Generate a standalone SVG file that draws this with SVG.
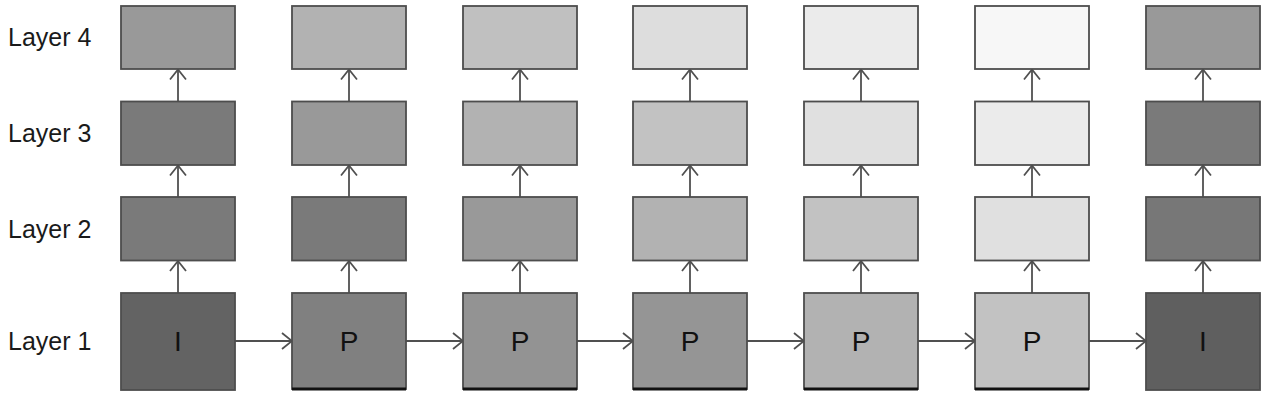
<svg xmlns="http://www.w3.org/2000/svg" width="1263" height="408" viewBox="0 0 1263 408">
<style>
.box{stroke:#4d4d4d;stroke-width:1.8}
.lbl{font-family:"Liberation Sans",Arial,sans-serif;font-size:25px;fill:#1a1a1a}
.fr{font-family:"Liberation Sans",Arial,sans-serif;font-size:28px;fill:#111;text-anchor:middle}
.con{stroke:#505050;stroke-width:1.8;fill:none}
.base{stroke:#111;stroke-width:3}
</style>
<defs>
<marker id="ah" viewBox="0 0 12 18" refX="11" refY="9" markerWidth="12" markerHeight="18" markerUnits="userSpaceOnUse" orient="auto">
<path d="M1,1 L11,9 L1,17" fill="none" stroke="#505050" stroke-width="1.8"/>
</marker>
</defs>
<rect width="1263" height="408" fill="#fff"/>
<g id="labels">
<text class="lbl" x="8" y="46">Layer 4</text>
<text class="lbl" x="8" y="142">Layer 3</text>
<text class="lbl" x="8" y="238">Layer 2</text>
<text class="lbl" x="8" y="350">Layer 1</text>
</g>
<g id="connectors">
<line class="con" x1="178" y1="197" x2="178" y2="165.5" marker-end="url(#ah)"/>
<line class="con" x1="178" y1="101" x2="178" y2="69.5" marker-end="url(#ah)"/>
<line class="con" x1="178" y1="293" x2="178" y2="261" marker-end="url(#ah)"/>
<line class="con" x1="349" y1="197" x2="349" y2="165.5" marker-end="url(#ah)"/>
<line class="con" x1="349" y1="101" x2="349" y2="69.5" marker-end="url(#ah)"/>
<line class="con" x1="349" y1="293" x2="349" y2="261" marker-end="url(#ah)"/>
<line class="con" x1="520" y1="197" x2="520" y2="165.5" marker-end="url(#ah)"/>
<line class="con" x1="520" y1="101" x2="520" y2="69.5" marker-end="url(#ah)"/>
<line class="con" x1="520" y1="293" x2="520" y2="261" marker-end="url(#ah)"/>
<line class="con" x1="690" y1="197" x2="690" y2="165.5" marker-end="url(#ah)"/>
<line class="con" x1="690" y1="101" x2="690" y2="69.5" marker-end="url(#ah)"/>
<line class="con" x1="690" y1="293" x2="690" y2="261" marker-end="url(#ah)"/>
<line class="con" x1="861" y1="197" x2="861" y2="165.5" marker-end="url(#ah)"/>
<line class="con" x1="861" y1="101" x2="861" y2="69.5" marker-end="url(#ah)"/>
<line class="con" x1="861" y1="293" x2="861" y2="261" marker-end="url(#ah)"/>
<line class="con" x1="1032" y1="197" x2="1032" y2="165.5" marker-end="url(#ah)"/>
<line class="con" x1="1032" y1="101" x2="1032" y2="69.5" marker-end="url(#ah)"/>
<line class="con" x1="1032" y1="293" x2="1032" y2="261" marker-end="url(#ah)"/>
<line class="con" x1="1203" y1="197" x2="1203" y2="165.5" marker-end="url(#ah)"/>
<line class="con" x1="1203" y1="101" x2="1203" y2="69.5" marker-end="url(#ah)"/>
<line class="con" x1="1203" y1="293" x2="1203" y2="261" marker-end="url(#ah)"/>
<line class="con" x1="235" y1="341" x2="292" y2="341" marker-end="url(#ah)"/>
<line class="con" x1="406" y1="341" x2="463" y2="341" marker-end="url(#ah)"/>
<line class="con" x1="577" y1="341" x2="633" y2="341" marker-end="url(#ah)"/>
<line class="con" x1="747" y1="341" x2="804" y2="341" marker-end="url(#ah)"/>
<line class="con" x1="918" y1="341" x2="975" y2="341" marker-end="url(#ah)"/>
<line class="con" x1="1089" y1="341" x2="1146" y2="341" marker-end="url(#ah)"/>
</g>
<g id="col1">
<rect class="box" x="121" y="6" width="114" height="63" fill="#999"/>
<rect class="box" x="121" y="101.5" width="114" height="63.5" fill="#7a7a7a"/>
<rect class="box" x="121" y="197" width="114" height="63.5" fill="#7a7a7a"/>
<rect class="box" x="121" y="293" width="114" height="97" fill="#636363" stroke="#777"/>
<text class="fr" x="178" y="351">I</text>
</g>
<g id="col2">
<rect class="box" x="292" y="6" width="114" height="63" fill="#b2b2b2"/>
<rect class="box" x="292" y="101.5" width="114" height="63.5" fill="#999"/>
<rect class="box" x="292" y="197" width="114" height="63.5" fill="#7a7a7a"/>
<rect class="box" x="292" y="293" width="114" height="96" fill="#808080"/>
<line class="base" x1="292" y1="389" x2="406" y2="389"/>
<text class="fr" x="349" y="351">P</text>
</g>
<g id="col3">
<rect class="box" x="463" y="6" width="114" height="63" fill="#c0c0c0"/>
<rect class="box" x="463" y="101.5" width="114" height="63.5" fill="#b2b2b2"/>
<rect class="box" x="463" y="197" width="114" height="63.5" fill="#999"/>
<rect class="box" x="463" y="293" width="114" height="96" fill="#939393"/>
<line class="base" x1="463" y1="389" x2="577" y2="389"/>
<text class="fr" x="520" y="351">P</text>
</g>
<g id="col4">
<rect class="box" x="633" y="6" width="114" height="63" fill="#dddddd"/>
<rect class="box" x="633" y="101.5" width="114" height="63.5" fill="#c2c2c2"/>
<rect class="box" x="633" y="197" width="114" height="63.5" fill="#b2b2b2"/>
<rect class="box" x="633" y="293" width="114" height="96" fill="#959595"/>
<line class="base" x1="633" y1="389" x2="747" y2="389"/>
<text class="fr" x="690" y="351">P</text>
</g>
<g id="col5">
<rect class="box" x="804" y="6" width="114" height="63" fill="#ebebeb"/>
<rect class="box" x="804" y="101.5" width="114" height="63.5" fill="#e0e0e0"/>
<rect class="box" x="804" y="197" width="114" height="63.5" fill="#c2c2c2"/>
<rect class="box" x="804" y="293" width="114" height="96" fill="#b2b2b2"/>
<line class="base" x1="804" y1="389" x2="918" y2="389"/>
<text class="fr" x="861" y="351">P</text>
</g>
<g id="col6">
<rect class="box" x="975" y="6" width="114" height="63" fill="#f7f7f7"/>
<rect class="box" x="975" y="101.5" width="114" height="63.5" fill="#ebebeb"/>
<rect class="box" x="975" y="197" width="114" height="63.5" fill="#e0e0e0"/>
<rect class="box" x="975" y="293" width="114" height="96" fill="#c2c2c2"/>
<line class="base" x1="975" y1="389" x2="1089" y2="389"/>
<text class="fr" x="1032" y="351">P</text>
</g>
<g id="col7">
<rect class="box" x="1146" y="6" width="114" height="63" fill="#999"/>
<rect class="box" x="1146" y="101.5" width="114" height="63.5" fill="#7a7a7a"/>
<rect class="box" x="1146" y="197" width="114" height="63.5" fill="#777"/>
<rect class="box" x="1146" y="293" width="114" height="97" fill="#5f5f5f" stroke="#777"/>
<text class="fr" x="1203" y="351">I</text>
</g>
</svg>
